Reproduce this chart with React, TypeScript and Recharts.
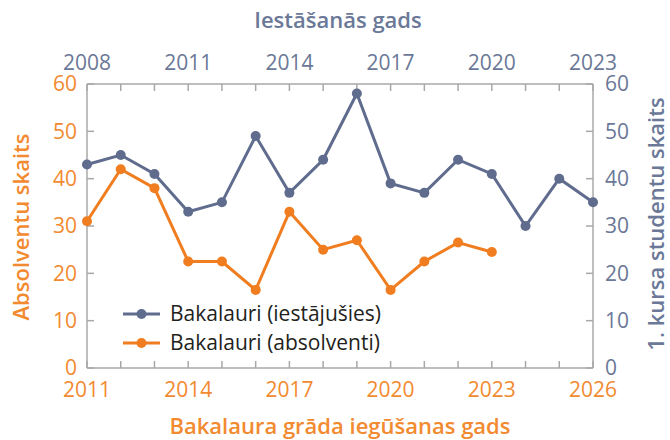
import { LineChart, Line, XAxis, YAxis, Legend, Label } from "recharts"

const intakeYears = [2008, 2009, 2010, 2011, 2012, 2013, 2014, 2015, 2016, 2017, 2018, 2019, 2020, 2021, 2022, 2023]
const intakeCounts = [43, 45, 41, 33, 35, 49, 37, 44, 58, 39, 37, 44, 41, 30, 40, 35]

const gradYears = [2011, 2012, 2013, 2014, 2015, 2016, 2017, 2018, 2019, 2020, 2021, 2022, 2023]
const graduateCounts = [31, 42, 38, 22.5, 22.5, 16.5, 33, 25, 27, 16.5, 22.5, 26.5, 24.5]

// bottom axis = top axis shifted by 3 years
const yearShift = 3
const topTickLabels = [2008, 2011, 2014, 2017, 2020, 2023]
const bottomTickLabels = [2011, 2014, 2017, 2020, 2023, 2026]
const yTicks = [0, 10, 20, 30, 40, 50, 60]

const seriesNames = ["Bakalauri (iestājušies)", "Bakalauri (absolventi)"]

const GRAY = "#5f6c8d"
const GRAY_TEXT = "#6b7897"
const ORANGE = "#f07d1f"
const ORANGE_TEXT = "#f28a30"
const AXIS = "#a8a8a8"

const data = intakeYears.map((year, i) => {
  const gi = gradYears.indexOf(year + yearShift)
  return {
    intake: year,
    grad: year + yearShift,
    entered: intakeCounts[i],
    graduated: gi >= 0 ? graduateCounts[gi] : null,
  }
})

const topTicks = intakeYears
const bottomTicks = intakeYears.map((y) => y + yearShift)

const renderLegend = (props: any) => {
  const items = [...(props.payload ?? [])].sort(
    (a: any, b: any) => seriesNames.indexOf(a.value) - seriesNames.indexOf(b.value)
  )
  return (
    <div>
      {items.map((item: any) => (
        <div key={item.value} style={{ display: "flex", alignItems: "center", height: 29 }}>
          <svg width={47} height={12}>
            <line x1={0} x2={37} y1={6} y2={6} stroke={item.color} strokeWidth={3} />
            <circle cx={18.5} cy={6} r={5} fill={item.color} />
          </svg>
          <span style={{ fontSize: 21, color: "#231f20", lineHeight: "29px" }}>{item.value}</span>
        </div>
      ))}
    </div>
  )
}

const titleStyle = { fontSize: 22, fontWeight: 600 }
const tickFont = 21

export default function App() {
  return (
    <div style={{ position: "absolute", left: 0, top: 0, fontFamily: "'Open Sans', sans-serif" }}>
      <LineChart width={670} height={440} data={data} margin={{ top: 0, right: 0, bottom: 0, left: 0 }}>
        <XAxis
          xAxisId="top"
          orientation="top"
          dataKey="intake"
          type="number"
          domain={[2008, 2023]}
          ticks={topTicks}
          interval={0}
          height={84}
          tickSize={-7}
          tickMargin={21}
          stroke={AXIS}
          strokeWidth={1.5}
          tick={{ fill: GRAY_TEXT, fontSize: tickFont }}
          tickFormatter={(v: number) => (topTickLabels.includes(v) ? String(v) : "")}
          label={
            <Label
              content={() => (
                <text x={338} y={28} textAnchor="middle" fill={GRAY_TEXT} style={titleStyle}>
                  Iestāšanās gads
                </text>
              )}
            />
          }
        />
        <XAxis
          xAxisId="bottom"
          orientation="bottom"
          dataKey="grad"
          type="number"
          domain={[2011, 2026]}
          ticks={bottomTicks}
          interval={0}
          height={72}
          tickSize={-7}
          tickMargin={21}
          stroke={AXIS}
          strokeWidth={1.5}
          tick={{ fill: ORANGE_TEXT, fontSize: tickFont }}
          tickFormatter={(v: number) => (bottomTickLabels.includes(v) ? String(v) : "")}
          label={
            <Label
              content={() => (
                <text x={340} y={434} textAnchor="middle" fill={ORANGE_TEXT} style={titleStyle}>
                  Bakalaura grāda iegūšanas gads
                </text>
              )}
            />
          }
        />
        <YAxis
          yAxisId="left"
          orientation="left"
          domain={[0, 60]}
          ticks={yTicks}
          interval={0}
          width={87}
          tickSize={-7}
          tickMargin={17}
          stroke={AXIS}
          strokeWidth={1.5}
          tick={{ fill: ORANGE_TEXT, fontSize: tickFont }}
          label={
            <Label
              content={() => (
                <text
                  x={0}
                  y={0}
                  transform="translate(29 227) rotate(-90)"
                  textAnchor="middle"
                  fill={ORANGE_TEXT}
                  style={titleStyle}
                >
                  Absolventu skaits
                </text>
              )}
            />
          }
        />
        <YAxis
          yAxisId="right"
          orientation="right"
          domain={[0, 60]}
          ticks={yTicks}
          interval={0}
          width={77}
          tickSize={-7}
          tickMargin={19}
          stroke={AXIS}
          strokeWidth={1.5}
          tick={{ fill: GRAY_TEXT, fontSize: tickFont }}
          label={
            <Label
              content={() => (
                <text
                  x={0}
                  y={0}
                  transform="translate(664 224) rotate(-90)"
                  textAnchor="middle"
                  fill={GRAY_TEXT}
                  style={titleStyle}
                >
                  1. kursa studentu skaits
                </text>
              )}
            />
          }
        />
        <Legend
          layout="vertical"
          align="center"
          verticalAlign="middle"
          content={renderLegend}
          wrapperStyle={{ left: 123, top: 299, width: 320 }}
        />
        <Line
          xAxisId="top"
          yAxisId="right"
          dataKey="entered"
          name={seriesNames[0]}
          stroke={GRAY}
          strokeWidth={3}
          dot={{ r: 5, fill: GRAY, stroke: GRAY, strokeWidth: 0 }}
          activeDot={false}
          isAnimationActive={false}
        />
        <Line
          xAxisId="bottom"
          yAxisId="left"
          dataKey="graduated"
          name={seriesNames[1]}
          stroke={ORANGE}
          strokeWidth={3}
          dot={{ r: 5, fill: ORANGE, stroke: ORANGE, strokeWidth: 0 }}
          activeDot={false}
          isAnimationActive={false}
        />
      </LineChart>
    </div>
  )
}
